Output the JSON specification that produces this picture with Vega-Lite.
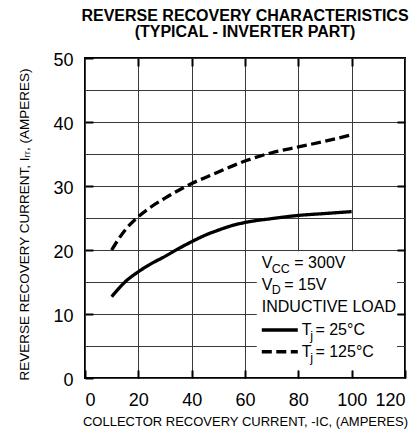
{
  "$schema": "https://vega.github.io/schema/vega-lite/v6.json",
  "width": 320,
  "height": 320,
  "autosize": {"type": "none"},
  "padding": {"left": 85, "top": 58, "right": 14, "bottom": 52},
  "background": "white",
  "title": {
    "text": ["REVERSE RECOVERY CHARACTERISTICS", "(TYPICAL - INVERTER PART)"],
    "anchor": "middle",
    "font": "Liberation Sans",
    "fontSize": 16,
    "fontWeight": "bold",
    "lineHeight": 16,
    "color": "black",
    "offset": 11
  },
  "config": {
    "view": {"stroke": "black", "strokeWidth": 2},
    "axis": {"labelFont": "Liberation Sans", "titleFont": "Liberation Sans", "labelColor": "black", "titleColor": "black"},
    "text": {"font": "Liberation Sans", "color": "black"}
  },
  "datasets": {
    "curves": [
      {"ic": 10, "irr": 12.7, "tj": "25°C"},
      {"ic": 15, "irr": 15.0, "tj": "25°C"},
      {"ic": 20, "irr": 16.6, "tj": "25°C"},
      {"ic": 25, "irr": 17.9, "tj": "25°C"},
      {"ic": 30, "irr": 19.0, "tj": "25°C"},
      {"ic": 35, "irr": 20.2, "tj": "25°C"},
      {"ic": 40, "irr": 21.3, "tj": "25°C"},
      {"ic": 45, "irr": 22.3, "tj": "25°C"},
      {"ic": 50, "irr": 23.1, "tj": "25°C"},
      {"ic": 55, "irr": 23.8, "tj": "25°C"},
      {"ic": 60, "irr": 24.3, "tj": "25°C"},
      {"ic": 70, "irr": 24.9, "tj": "25°C"},
      {"ic": 80, "irr": 25.4, "tj": "25°C"},
      {"ic": 90, "irr": 25.7, "tj": "25°C"},
      {"ic": 100, "irr": 26.0, "tj": "25°C"},
      {"ic": 10, "irr": 20.0, "tj": "125°C"},
      {"ic": 15, "irr": 23.1, "tj": "125°C"},
      {"ic": 20, "irr": 25.2, "tj": "125°C"},
      {"ic": 25, "irr": 26.8, "tj": "125°C"},
      {"ic": 30, "irr": 28.1, "tj": "125°C"},
      {"ic": 35, "irr": 29.3, "tj": "125°C"},
      {"ic": 40, "irr": 30.4, "tj": "125°C"},
      {"ic": 45, "irr": 31.3, "tj": "125°C"},
      {"ic": 50, "irr": 32.2, "tj": "125°C"},
      {"ic": 60, "irr": 33.9, "tj": "125°C"},
      {"ic": 70, "irr": 35.2, "tj": "125°C"},
      {"ic": 80, "irr": 36.1, "tj": "125°C"},
      {"ic": 90, "irr": 37.0, "tj": "125°C"},
      {"ic": 100, "irr": 38.0, "tj": "125°C"}
    ],
    "box": [{"x": 64.4, "x2": 117, "y": 1.2, "y2": 19.8}],
    "samples": [
      {"x": 66.3, "x2": 79.8, "y": 7.5, "tj": "25°C"},
      {"x": 66.3, "x2": 79.8, "y": 4.1, "tj": "125°C"}
    ],
    "notes": [
      {"x": 66.3, "y": 17.14, "text": "V", "role": "main"},
      {"x": 70.0, "y": 16.36, "text": "CC", "role": "sub"},
      {"x": 78.5, "y": 17.14, "text": "= 300V", "role": "main"},
      {"x": 66.3, "y": 13.75, "text": "V", "role": "main"},
      {"x": 70.0, "y": 13.08, "text": "D", "role": "sub"},
      {"x": 74.7, "y": 13.75, "text": "= 15V", "role": "main"},
      {"x": 66.3, "y": 10.27, "text": "INDUCTIVE LOAD", "role": "main"},
      {"x": 81.3, "y": 6.72, "text": "T", "role": "main"},
      {"x": 84.5, "y": 5.94, "text": "j", "role": "sub"},
      {"x": 86.4, "y": 6.72, "text": "= 25°C", "role": "main"},
      {"x": 81.3, "y": 3.33, "text": "T", "role": "main"},
      {"x": 84.5, "y": 2.55, "text": "j", "role": "sub"},
      {"x": 86.4, "y": 3.33, "text": "= 125°C", "role": "main"}
    ]
  },
  "layer": [
    {
      "data": {"name": "box"},
      "mark": {"type": "rect", "fill": "white", "stroke": null},
      "encoding": {
        "x": {
          "field": "x", "type": "quantitative",
          "scale": {"domain": [0, 120], "nice": false},
          "axis": {
            "orient": "bottom",
            "values": [0, 20, 40, 60, 80, 100, 120],
            "grid": true, "gridColor": "#3a3a3a", "gridWidth": 1, "gridOpacity": 1,
            "domain": false,
            "tickSize": -8, "tickWidth": 2, "tickColor": "black",
            "labelFontSize": 18, "labelPadding": 21,
            "title": "COLLECTOR RECOVERY CURRENT, -IC, (AMPERES)",
            "titleFontSize": 13, "titleFontWeight": "normal", "titlePadding": 6
          }
        },
        "x2": {"field": "x2"},
        "y": {
          "field": "y", "type": "quantitative",
          "scale": {"domain": [0, 50], "nice": false},
          "axis": {
            "orient": "left",
            "values": [0, 5, 10, 15, 20, 25, 30, 35, 40, 45, 50],
            "labelExpr": "datum.value % 10 === 0 ? datum.label : ''",
            "grid": true, "gridColor": "#3a3a3a", "gridWidth": 1, "gridOpacity": 1,
            "domain": false,
            "tickSize": -8, "tickWidth": 2, "tickColor": "black",
            "tickOpacity": {"condition": {"test": "datum.value % 10 === 0", "value": 1}, "value": 0},
            "labelFontSize": 18, "labelPadding": 20, "labelOffset": 2,
            "title": "REVERSE RECOVERY CURRENT, Iᵣᵣ, (AMPERES)",
            "titleFontSize": 13.5, "titleFontWeight": "normal", "titlePadding": 21,
            "titleY": 166
          }
        },
        "y2": {"field": "y2"}
      }
    },
    {
      "data": {"name": "curves"},
      "mark": {"type": "line", "interpolate": "monotone", "strokeWidth": 3.3, "color": "black"},
      "encoding": {
        "x": {
          "field": "ic", "type": "quantitative",
          "scale": {"domain": [0, 120], "nice": false},
          "axis": {
            "orient": "top", "values": [20, 40, 60, 80, 100],
            "labels": false, "grid": false, "domain": false, "title": null,
            "tickSize": -8, "tickWidth": 2, "tickColor": "black", "zindex": 1
          }
        },
        "y": {
          "field": "irr", "type": "quantitative",
          "scale": {"domain": [0, 50], "nice": false},
          "axis": {
            "orient": "right", "values": [10, 20, 30, 40],
            "labels": false, "grid": false, "domain": false, "title": null,
            "tickSize": -8, "tickWidth": 2, "tickColor": "black", "zindex": 1
          }
        },
        "detail": {"field": "tj"},
        "strokeDash": {
          "field": "tj", "type": "nominal",
          "scale": {"domain": ["25°C", "125°C"], "range": [[1, 0], [10, 4.5]]},
          "legend": null
        }
      }
    },
    {
      "data": {"name": "samples"},
      "mark": {"type": "rule", "strokeWidth": 3.3, "color": "black"},
      "encoding": {
        "x": {"field": "x", "type": "quantitative", "axis": null},
        "x2": {"field": "x2"},
        "y": {"field": "y", "type": "quantitative", "axis": null},
        "strokeDash": {
          "field": "tj", "type": "nominal",
          "scale": {"domain": ["25°C", "125°C"], "range": [[1, 0], [10, 4.5]]},
          "legend": null
        }
      }
    },
    {
      "data": {"name": "notes"},
      "transform": [{"filter": "datum.role === 'main'"}],
      "mark": {"type": "text", "fontSize": 16, "align": "left", "baseline": "alphabetic"},
      "encoding": {
        "x": {"field": "x", "type": "quantitative", "axis": null},
        "y": {"field": "y", "type": "quantitative", "axis": null},
        "text": {"field": "text"}
      }
    },
    {
      "data": {"name": "notes"},
      "transform": [{"filter": "datum.role === 'sub'"}],
      "mark": {"type": "text", "fontSize": 12.5, "align": "left", "baseline": "alphabetic"},
      "encoding": {
        "x": {"field": "x", "type": "quantitative", "axis": null},
        "y": {"field": "y", "type": "quantitative", "axis": null},
        "text": {"field": "text"}
      }
    }
  ],
  "resolve": {"axis": {"x": "independent", "y": "independent"}}
}
